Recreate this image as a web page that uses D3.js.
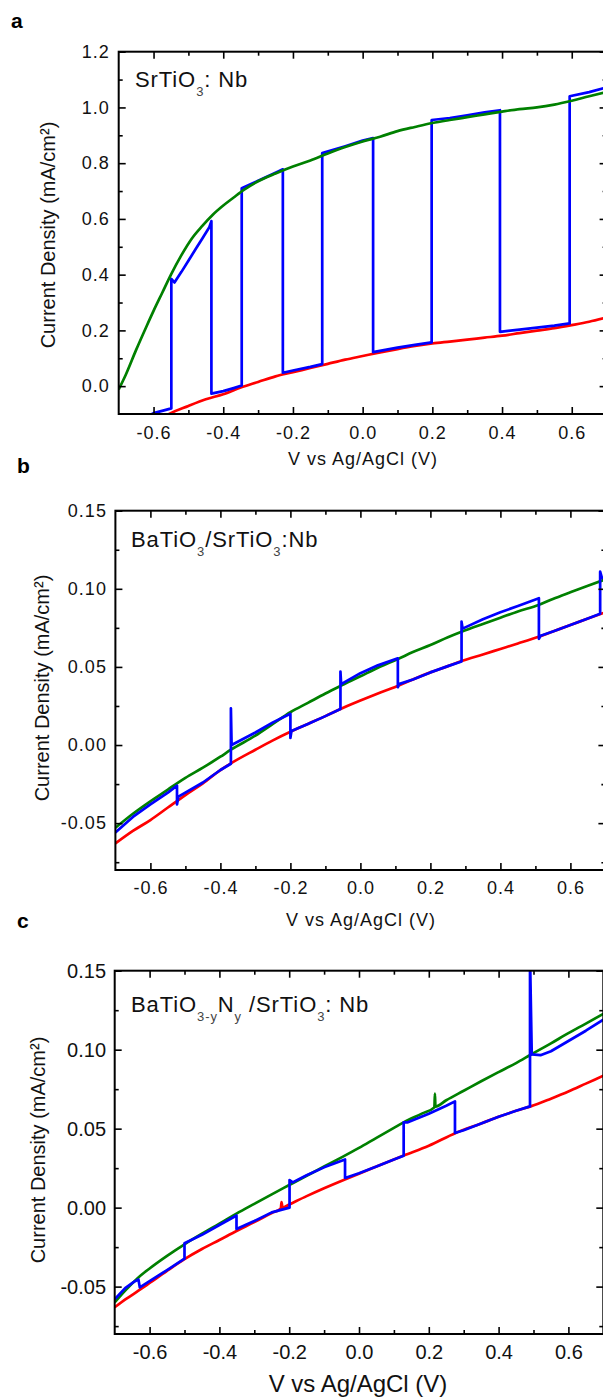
<!DOCTYPE html>
<html><head><meta charset="utf-8">
<script src="https://cdn.jsdelivr.net/npm/d3@7"></script>
<style>
body{margin:0;background:#fff;}
svg{display:block;font-family:"Liberation Sans",Arial,sans-serif;}
</style></head><body>
<svg id="chart" width="603" height="1400"></svg>
<script>
// ---------- data (V vs Ag/AgCl, current density mA/cm²) ----------
const xDomain = [-0.7, 0.7];
const xTicks = [-0.6, -0.4, -0.2, 0.0, 0.2, 0.4, 0.6];
const xMinorTicks = [-0.5, -0.3, -0.1, 0.1, 0.3, 0.5];

const aYTicks = [0.0, 0.2, 0.4, 0.6, 0.8, 1.0, 1.2];
const aYMinorTicks = [0.1, 0.3, 0.5, 0.7, 0.9, 1.1];
const bcYTicks = [-0.05, 0.00, 0.05, 0.10, 0.15];
const bcYMinorTicks = [-0.075, -0.025, 0.025, 0.075, 0.125];

// panel a : SrTiO3:Nb
const aDark = [[-0.58,-0.12],[-0.555,-0.10],[-0.5,-0.071],[-0.45,-0.047],[-0.4,-0.029],[-0.35,-0.005],[-0.3,0.015],[-0.25,0.035],[-0.2,0.050],[-0.15,0.065],[-0.1,0.080],[-0.05,0.095],[0.0,0.108],[0.05,0.121],[0.1,0.133],[0.15,0.144],[0.2,0.153],[0.25,0.160],[0.3,0.167],[0.35,0.174],[0.4,0.181],[0.45,0.190],[0.5,0.199],[0.55,0.208],[0.6,0.219],[0.65,0.231],[0.7,0.246]];
const aLight = [[-0.7,-0.012],[-0.68,0.04],[-0.65,0.13],[-0.62,0.215],[-0.6,0.27],[-0.575,0.335],[-0.55,0.40],[-0.52,0.47],[-0.49,0.53],[-0.46,0.575],[-0.43,0.615],[-0.4,0.648],[-0.37,0.677],[-0.34,0.705],[-0.3,0.735],[-0.25,0.763],[-0.2,0.788],[-0.15,0.81],[-0.1,0.835],[-0.05,0.858],[0.0,0.878],[0.05,0.895],[0.1,0.915],[0.15,0.93],[0.2,0.944],[0.25,0.955],[0.3,0.965],[0.35,0.975],[0.4,0.985],[0.45,0.994],[0.5,1.0],[0.55,1.01],[0.6,1.024],[0.65,1.04],[0.7,1.055]];
const aChopped = [[-0.62,-0.11],[-0.6,-0.097],[-0.57,-0.087],[-0.549,-0.08],[-0.549,0.385],[-0.54,0.372],[-0.52,0.41],[-0.5,0.45],[-0.48,0.49],[-0.46,0.53],[-0.44,0.57],[-0.434,0.592],[-0.434,-0.027],[-0.40,-0.018],[-0.37,-0.007],[-0.347,0.002],[-0.347,0.71],[-0.3,0.737],[-0.25,0.766],[-0.229,0.778],[-0.229,0.048],[-0.2,0.056],[-0.15,0.069],[-0.116,0.079],[-0.116,0.836],[-0.05,0.861],[0.0,0.881],[0.03,0.89],[0.03,0.122],[0.1,0.138],[0.15,0.148],[0.198,0.157],[0.198,0.955],[0.25,0.962],[0.3,0.972],[0.35,0.982],[0.394,0.99],[0.394,0.195],[0.45,0.203],[0.5,0.21],[0.55,0.217],[0.594,0.225],[0.594,1.04],[0.65,1.055],[0.7,1.072]];

// panel b : BaTiO3/SrTiO3:Nb
const bDark = [[-0.7,-0.063],[-0.65,-0.055],[-0.6,-0.048],[-0.55,-0.040],[-0.5,-0.032],[-0.45,-0.0245],[-0.4,-0.016],[-0.37,-0.0117],[-0.3,-0.003],[-0.25,0.003],[-0.2,0.0085],[-0.15,0.0135],[-0.1,0.0185],[-0.06,0.0228],[0.0,0.0285],[0.05,0.033],[0.113,0.0384],[0.15,0.042],[0.2,0.0465],[0.25,0.0505],[0.289,0.0538],[0.35,0.058],[0.4,0.0615],[0.45,0.065],[0.509,0.0693],[0.55,0.0727],[0.6,0.0768],[0.65,0.081],[0.7,0.085]];
const bLight = [[-0.7,-0.053],[-0.65,-0.044],[-0.6,-0.036],[-0.55,-0.0285],[-0.524,-0.0245],[-0.5,-0.021],[-0.45,-0.0145],[-0.4,-0.0075],[-0.37,-0.003],[-0.3,0.006],[-0.25,0.0135],[-0.2,0.021],[-0.15,0.027],[-0.1,0.033],[-0.06,0.0375],[0.0,0.044],[0.05,0.0495],[0.107,0.055],[0.15,0.0595],[0.2,0.064],[0.25,0.069],[0.289,0.0725],[0.35,0.0775],[0.4,0.0815],[0.45,0.0855],[0.509,0.0896],[0.55,0.0935],[0.6,0.0978],[0.65,0.102],[0.7,0.106]];
const bChopped = [[-0.7,-0.056],[-0.65,-0.046],[-0.6,-0.038],[-0.55,-0.0305],[-0.524,-0.026],[-0.524,-0.038],[-0.52,-0.033],[-0.45,-0.024],[-0.4,-0.016],[-0.37,-0.012],[-0.37,0.0235],[-0.368,0.0],[-0.3,0.008],[-0.25,0.0145],[-0.2,0.020],[-0.2,0.0045],[-0.197,0.009],[-0.15,0.0135],[-0.1,0.0185],[-0.057,0.023],[-0.057,0.047],[-0.055,0.039],[0.0,0.046],[0.05,0.051],[0.107,0.0555],[0.107,0.037],[0.11,0.039],[0.15,0.042],[0.2,0.0465],[0.25,0.0505],[0.289,0.0535],[0.289,0.079],[0.292,0.0745],[0.35,0.0805],[0.4,0.085],[0.45,0.089],[0.51,0.094],[0.51,0.068],[0.515,0.070],[0.55,0.0727],[0.6,0.0768],[0.65,0.081],[0.685,0.084],[0.685,0.111],[0.69,0.107],[0.7,0.107]];

// panel c : BaTiO3-yNy/SrTiO3:Nb
const cDark = [[-0.7,-0.0631],[-0.665,-0.0575],[-0.632,-0.0526],[-0.6,-0.0477],[-0.55,-0.040],[-0.5,-0.0326],[-0.45,-0.0262],[-0.4,-0.0205],[-0.351,-0.0148],[-0.3,-0.0092],[-0.25,-0.0034],[-0.224,-0.0005],[-0.222,0.0035],[-0.219,0.0],[-0.2,0.002],[-0.15,0.0073],[-0.1,0.0123],[-0.037,0.0182],[0.0,0.0215],[0.05,0.026],[0.1,0.0305],[0.128,0.033],[0.2,0.0392],[0.277,0.0473],[0.35,0.0533],[0.4,0.0575],[0.45,0.0613],[0.492,0.0641],[0.55,0.069],[0.6,0.0735],[0.65,0.0785],[0.7,0.0835]];
const cLight = [[-0.7,-0.060],[-0.67,-0.0525],[-0.632,-0.0442],[-0.6,-0.0385],[-0.55,-0.0305],[-0.5,-0.0232],[-0.45,-0.0165],[-0.4,-0.0102],[-0.351,-0.0038],[-0.3,0.0024],[-0.25,0.0084],[-0.2,0.0143],[-0.15,0.0202],[-0.1,0.026],[-0.05,0.0318],[0.0,0.0378],[0.05,0.0442],[0.1,0.0505],[0.128,0.054],[0.18,0.0595],[0.216,0.0635],[0.2175,0.0722],[0.219,0.064],[0.25,0.068],[0.3,0.074],[0.35,0.080],[0.4,0.0858],[0.45,0.0915],[0.492,0.0968],[0.55,0.104],[0.6,0.1105],[0.65,0.1165],[0.7,0.1227]];
const cChopped = [[-0.7,-0.058],[-0.67,-0.051],[-0.645,-0.047],[-0.632,-0.0455],[-0.628,-0.0505],[-0.6,-0.0465],[-0.55,-0.0395],[-0.5,-0.0323],[-0.5,-0.0225],[-0.45,-0.0172],[-0.4,-0.011],[-0.351,-0.005],[-0.351,-0.0135],[-0.3,-0.0085],[-0.25,-0.003],[-0.199,0.0],[-0.199,0.0175],[-0.19,0.016],[-0.15,0.0205],[-0.1,0.0255],[-0.04,0.0305],[-0.04,0.0188],[0.0,0.0218],[0.05,0.026],[0.1,0.0305],[0.128,0.0328],[0.128,0.054],[0.14,0.054],[0.2,0.0595],[0.25,0.0645],[0.275,0.0673],[0.275,0.0473],[0.3,0.049],[0.35,0.0533],[0.4,0.0575],[0.45,0.0613],[0.49,0.0641],[0.49,0.16],[0.495,0.097],[0.52,0.0965],[0.55,0.099],[0.6,0.1055],[0.65,0.112],[0.7,0.119]];

const panelLabels = ["a", "b", "c"];
const xTitle = "V vs Ag/AgCl (V)";
const yTitle = "Current Density (mA/cm\u00B2)";
const annotA = [["SrTiO",0],["3",1],[": Nb",0]];
const annotB = [["BaTiO",0],["3",1],["/SrTiO",0],["3",1],[":Nb",0]];
const annotC = [["BaTiO",0],["3-y",1],["N",0],["y",1],[" /SrTiO",0],["3",1],[": Nb",0]];

// ---------- layout ----------
const panels = [
  {id:"a", label:panelLabels[0], dark:aDark, light:aLight, chop:aChopped, yDomain:[-0.1,1.2], yTicks:aYTicks, yMinor:aYMinorTicks, dec:1,
   left:118.7, right:606.6, top:51.7, bottom:414, tickSize:18, tickLS:1, xPad:12.5, yPad:9,
   xt:{x:363,y:465,size:18,ls:1}, yt:{x:55,y:235,size:20}, lab:{x:11,y:28}, ann:{x:135,y:87,parts:annotA}, greenTop:true},
  {id:"b", label:panelLabels[1], dark:bDark, light:bLight, chop:bChopped, yDomain:[-0.08,0.15], yTicks:bcYTicks, yMinor:bcYMinorTicks, dec:2,
   left:115.4, right:605.4, top:510.7, bottom:870, tickSize:18, tickLS:1, xPad:11.5, yPad:8.5,
   xt:{x:361,y:926,size:18,ls:1}, yt:{x:49,y:688,size:20}, lab:{x:17,y:473}, ann:{x:131,y:547,parts:annotB}, greenTop:false},
  {id:"c", label:panelLabels[2], dark:cDark, light:cLight, chop:cChopped, yDomain:[-0.08,0.15], yTicks:bcYTicks, yMinor:bcYMinorTicks, dec:2,
   left:114.7, right:603.3, top:970.7, bottom:1334, tickSize:20, tickLS:0, xPad:11, yPad:8.7,
   xt:{x:358,y:1392,size:24,ls:0}, yt:{x:45,y:1150,size:20}, lab:{x:17,y:928}, ann:{x:131,y:1012,parts:annotC}, greenTop:false}
];

const svg = d3.select("#chart");
const RED = "#ff0000", BLUE = "#0000ff", GREEN = "#008000";

function fmt(dec){ return d => { const s = d.toFixed(dec); return s === "-0.0" || s === "-0.00" ? s.slice(1) : s; }; }

panels.forEach(p => {
  const x = d3.scaleLinear().domain(xDomain).range([p.left, p.right]);
  const y = d3.scaleLinear().domain(p.yDomain).range([p.bottom, p.top]);
  const g = svg.append("g");

  svg.append("clipPath").attr("id", "clip-" + p.id)
    .append("rect").attr("x", p.left).attr("y", p.top)
    .attr("width", p.right - p.left).attr("height", p.bottom - p.top);

  const lineLin = d3.line().x(d => x(d[0])).y(d => y(d[1]));
  const lineSm = d3.line().x(d => x(d[0])).y(d => y(d[1])).curve(d3.curveMonotoneX);

  const lg = g.append("g").attr("clip-path", `url(#clip-${p.id})`);
  const series = p.greenTop
    ? [[p.dark, RED, lineSm], [p.chop, BLUE, lineLin], [p.light, GREEN, lineSm]]
    : [[p.dark, RED, lineSm], [p.light, GREEN, lineSm], [p.chop, BLUE, lineLin]];
  series.forEach(([data, col, gen]) => {
    lg.append("path").datum(data).attr("d", gen)
      .attr("fill", "none").attr("stroke", col).attr("stroke-width", 2.7)
      .attr("stroke-linejoin", "round");
  });

  // axes (ticks inward on all four sides)
  const styleAxis = sel => {
    sel.select(".domain").remove();
    sel.selectAll(".tick line").attr("stroke", "#000").attr("stroke-width", 1.6);
    sel.selectAll("text").attr("fill", "#111").attr("font-size", p.tickSize)
      .attr("font-family", "Liberation Sans, Arial, sans-serif")
      .style("letter-spacing", p.tickLS + "px");
  };
  g.append("g").attr("transform", `translate(0,${p.bottom})`)
    .call(d3.axisBottom(x).tickValues(xTicks).tickSize(-7).tickPadding(p.xPad).tickFormat(fmt(1))).call(styleAxis);
  g.append("g").attr("transform", `translate(0,${p.bottom})`)
    .call(d3.axisBottom(x).tickValues(xMinorTicks).tickSize(-4).tickFormat("")).call(styleAxis);
  g.append("g").attr("transform", `translate(0,${p.top})`)
    .call(d3.axisTop(x).tickValues(xTicks).tickSize(-7).tickFormat("")).call(styleAxis);
  g.append("g").attr("transform", `translate(0,${p.top})`)
    .call(d3.axisTop(x).tickValues(xMinorTicks).tickSize(-4).tickFormat("")).call(styleAxis);
  g.append("g").attr("transform", `translate(${p.left},0)`)
    .call(d3.axisLeft(y).tickValues(p.yTicks).tickSize(-7).tickPadding(p.yPad).tickFormat(fmt(p.dec))).call(styleAxis);
  g.append("g").attr("transform", `translate(${p.left},0)`)
    .call(d3.axisLeft(y).tickValues(p.yMinor).tickSize(-4).tickFormat("")).call(styleAxis);
  g.append("g").attr("transform", `translate(${p.right},0)`)
    .call(d3.axisRight(y).tickValues(p.yTicks).tickSize(-7).tickFormat("")).call(styleAxis);
  g.append("g").attr("transform", `translate(${p.right},0)`)
    .call(d3.axisRight(y).tickValues(p.yMinor).tickSize(-4).tickFormat("")).call(styleAxis);

  // frame
  g.append("rect").attr("x", p.left).attr("y", p.top)
    .attr("width", p.right - p.left).attr("height", p.bottom - p.top)
    .attr("fill", "none").attr("stroke", "#000").attr("stroke-width", 2);

  // axis titles
  g.append("text").attr("x", p.xt.x).attr("y", p.xt.y).attr("text-anchor", "middle")
    .attr("font-size", p.xt.size).attr("fill", "#111").style("letter-spacing", p.xt.ls + "px")
    .text(xTitle);
  g.append("text").attr("transform", `translate(${p.yt.x},${p.yt.y}) rotate(-90)`)
    .attr("text-anchor", "middle").attr("font-size", p.yt.size).attr("fill", "#111")
    .text(yTitle);

  // panel label
  g.append("text").attr("x", p.lab.x).attr("y", p.lab.y).attr("font-size", 21)
    .attr("font-weight", "bold").attr("fill", "#000").text(p.label);

  // sample annotation
  const t = g.append("text").attr("x", p.ann.x).attr("y", p.ann.y).attr("font-size", 22)
    .attr("fill", "#111").style("letter-spacing", "0.9px");
  let shifted = false;
  p.ann.parts.forEach(([s, sub]) => {
    const ts = t.append("tspan").text(s);
    if (sub && !shifted) { ts.attr("dy", 9).attr("font-size", 13).attr("fill", "#444"); shifted = true; }
    else if (!sub && shifted) { ts.attr("dy", -9); shifted = false; }
  });
});
</script>
</body></html>
